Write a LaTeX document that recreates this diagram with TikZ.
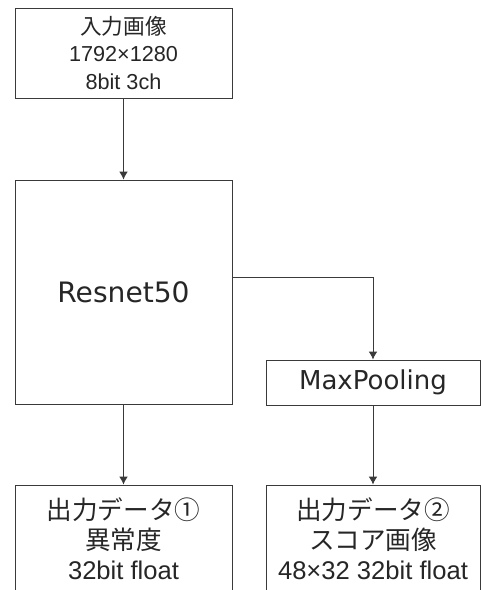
\documentclass[tikz,border=0pt]{standalone}
\usepackage{fontspec}
\usepackage{tikz}
\usetikzlibrary{arrows.meta}
\setmainfont{Liberation Sans}
\newfontfamily\jpfont{Noto Sans CJK JP}
\newfontfamily\vfont{DejaVu Sans}
\definecolor{ln}{HTML}{3A3A3A}
\definecolor{tx}{HTML}{262626}
\newcommand{\jp}[1]{{\jpfont #1}}

\begin{document}
\begin{tikzpicture}[
  box/.style={draw=ln, line width=0.7pt, inner sep=0pt, minimum width=5.425cm,
              align=center, text=tx},
  arr/.style={-{Latex[length=2mm,width=2.2mm]}, draw=ln, line width=0.7pt}
]
  \useasboundingbox (0,0) rectangle (12,-14.75);
  % Input
  \node[box, minimum height=2.25cm, font=\fontsize{15.4}{19.5}\selectfont]
    (input) at (3.0875,-1.325) {\jp{入力画像}\\1792×1280\\8bit 3ch};
  % Network
  \node[box, minimum height=5.6cm, font=\vfont\fontsize{20}{24}\selectfont]
    (resnet) at (3.0875,-7.3) {Resnet50};
  % Pooling
  \node[box, minimum width=5.35cm, minimum height=1.125cm,
        font=\vfont\fontsize{18.5}{22}\selectfont]
    (pool) at (9.325,-9.5625) {MaxPooling};
  % Outputs
  \node[box, minimum height=2.7cm, font=\fontsize{18.2}{21.3}\selectfont]
    (out1) at (3.0875,-13.475) {\jp{出力データ①}\\\jp{異常度}\\32bit float};
  \node[box, minimum width=5.35cm, minimum height=2.7cm,
        font=\fontsize{18.2}{21.3}\selectfont]
    (out2) at (9.325,-13.475) {\jp{出力データ②}\\\jp{スコア画像}\\48×32 32bit float};

  \draw[arr] (input)  -- (resnet);
  \draw[arr] (resnet) -- (out1);
  \draw[arr] ([yshift=0.375cm]resnet.east) -| (pool);
  \draw[arr] (pool)   -- (out2);
\end{tikzpicture}
\end{document}
